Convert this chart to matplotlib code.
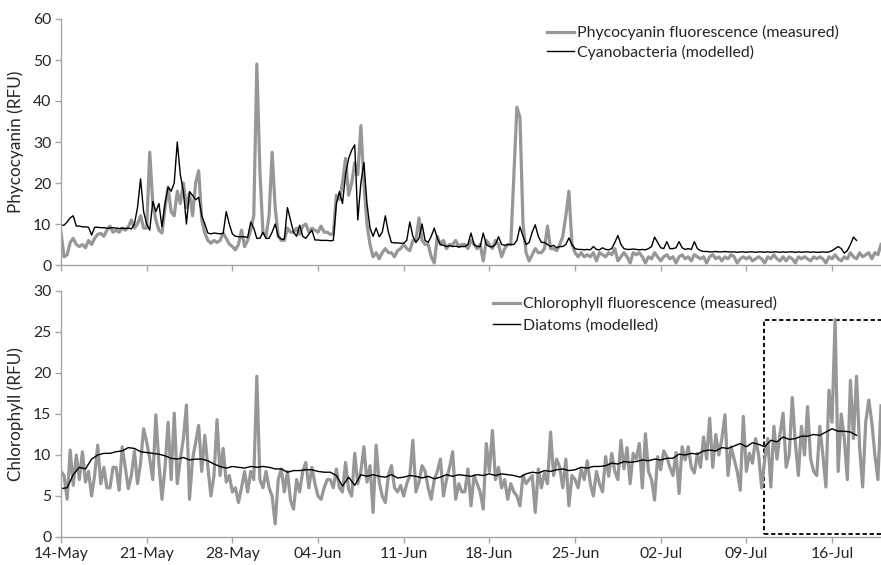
import numpy as np
import pandas as pd
import matplotlib
matplotlib.use("Agg")
import matplotlib.pyplot as plt
import matplotlib.dates as mdates
from matplotlib.patches import Rectangle

plt.rcParams['font.family'] = ['Lato', 'DejaVu Sans']

# ---------------- data ----------------
start_date = "2013-05-14"
tick_labels = ["14-May", "21-May", "28-May", "04-Jun", "11-Jun", "18-Jun",
               "25-Jun", "02-Jul", "09-Jul", "16-Jul"]

# Phycocyanin fluorescence (measured), 6-hourly from 14-May 00:00
phyco_measured = [
    8, 2, 2.5, 5.5,   6.5, 5, 4.5, 5,   4.2, 6, 5, 6.5,   7.5, 7.7, 7, 8.5,
    9.5, 8, 8.5, 8,   9, 8.5, 9.3, 11,  9, 10, 12, 9,     9, 27.5, 15, 11,
    8.5, 7.8, 14, 19, 13, 12, 18, 15,   20, 14, 17.5, 12, 20, 23, 11, 7.8,
    6, 5.3, 6, 5.5,   6, 7.8, 6.5, 5.1, 4.5, 3.7, 5, 8.5, 4.5, 6, 8.5, 12,
    49, 23, 8, 7,     12, 27.5, 14, 7,  6, 6, 9, 8,       8, 9, 7.5, 9.5,
    10, 8, 9, 8.5,    8, 9.5, 8, 8,     7.5, 7.5, 17, 16, 20, 26, 17, 20,
    25, 22, 34, 20,   10, 5, 2, 3,      1.5, 3, 4, 3,     3, 2, 3.5, 4,
    5, 4, 3.5, 6,     6, 11.5, 6, 5,    5, 2, 0.5, 7,     5, 6, 4, 5,
    5, 6, 4.5, 5,     5, 4, 6, 5,       4, 5, 1, 6,       5, 4, 6, 5,
    2, 4, 5, 5,       22, 38.5, 36, 10, 3, 1, 2.5, 4,     3, 3, 4, 9.5,
    4, 4, 3.5, 5,     7, 12, 18, 5,     3, 2, 3, 2,       2.5, 2, 3, 1,
    3, 2.5, 2, 3,     2.5, 4, 1, 2,     3, 2, 0.5, 3,     2.5, 3, 2, 0.5,
    2, 1.5, 3, 2,     1, 2, 2.5, 1.5,   2, 0.5, 2, 2.5,   1.5, 2, 1, 2.5,
    2, 1.5, 2, 0.5,   2, 2.5, 1.5, 2,   1, 2, 1.5, 2.5,   2, 0.5, 1.5, 2,
    1.5, 2, 1, 1.5,   2, 1.5, 0.5, 2,   1.5, 2.5, 1.5, 1, 2, 1, 2, 1.5,
    0.5, 2, 1.5, 2,   1.5, 1, 2, 1.5,   2, 1.5, 0.5, 2,   1.5, 2.5, 1.5, 1,
    2, 1.5, 3, 2,     1.5, 3, 2, 2.5,   3, 1.5, 3, 2.5,   5,
]

# Cyanobacteria (modelled), 6-hourly from 14-May 00:00
cyano_modelled = [
    9.7, 9.7, 10.5, 11.5, 12, 9.5, 9.5, 9.3,  9.3, 9.2, 7.3, 9.2,  9.2, 9.1, 9.1, 9.0,
    9.0, 9.1, 9.0, 8.9,   9.0, 8.9, 9.0, 8.8, 10, 14, 21, 13,      10, 8.5, 15.5, 13,
    15, 9.3, 15, 19,      18, 20, 30, 22,     18, 10, 17.9, 17,    15.9, 16.5, 12, 10,
    7.8, 7.6, 7.8, 7.7,   7.6, 7.7, 13, 10,   7.6, 7, 6.9, 6.9,    6.9, 6.7, 10.5, 9,
    6.5, 6.5, 8, 6.5,     6.5, 8, 10, 7,      6.3, 6.3, 14, 11,    8, 7, 9.7, 7,
    6.5, 7.5, 8.5, 6.1,   6.1, 6, 6, 6,       5.9, 6, 15, 17.9,    15, 22, 26, 28,
    29.3, 11, 20, 25,     15, 9, 7, 9,        6.9, 8, 12, 8,       5.5, 5.4, 5.4, 5.3,
    5.3, 6, 10.5, 7,      5.5, 6.5, 10, 6,    5.5, 7, 9, 6.5,      5, 4.8, 4.5, 4.7,
    4.5, 4.6, 4.4, 4.5,   4.5, 5, 7.8, 5,     4.5, 4.5, 7.8, 5,    4.5, 4.4, 5, 6.9,
    5, 4.8, 5, 5,         5, 6, 9.3, 7,       5, 5.5, 8, 9.8,      7, 5.5, 5.5, 5,
    4.5, 4.8, 4.2, 4.5,   4.5, 5, 6.6, 5,     4, 3.8, 3.8, 3.7,    3.8, 3.7, 4.5, 3.8,
    3.7, 4.2, 3.8, 3.7,   4, 5.5, 7.2, 5,     4, 3.8, 3.8, 3.9,    3.8, 3.7, 3.8, 3.7,
    4, 4.5, 6.8, 5.5,     4.2, 4, 5.7, 4,     4, 4.2, 5.7, 4.2,    3.8, 4, 3.8, 5.7,
    4, 3.5, 3.3, 3.3,     3.2, 3.2, 3.3, 3.2, 3.2, 3.3, 3.2, 3.2,  3.2, 3.1, 3.2, 3.2,
    3.1, 3.2, 3.2, 3.1,   3.2, 3.2, 3.1, 3.2, 3.1, 3.2, 3.2, 3.1,  3.2, 3.1, 3.2, 3.2,
    3.1, 3.2, 3.1, 3.2,   3.2, 3.1, 3.2, 3.1, 3.1, 3.2, 3.1, 3.2,  3.5, 4, 4.5, 4,
    2.9, 3.5, 5, 6.8,     6,
]

# Chlorophyll fluorescence (measured), 6-hourly from 14-May 00:00
chl_measured = [
    8, 7.5, 4.6, 10.6,    6.3, 10, 7, 10.4,   6.7, 8, 5, 7.5,      11.2, 6.5, 8.5, 6,
    6, 8.5, 8.5, 5.7,     11, 8.5, 5.9, 7.5,  10.5, 6.5, 9, 13.2,  11.6, 9.5, 7, 14.9,
    9, 4.6, 8.5, 14,      7, 15.1, 6.5, 9.5,  12, 16.1, 4.6, 9.5,  11.5, 13.6, 8, 12.4,
    8.5, 5, 7.5, 14.3,    7.5, 10.8, 6.7, 7.5, 5.5, 6, 4.2, 6,     8, 5.5, 8, 7,
    19.6, 7, 6, 8,        6, 5, 1.6, 7,       8.3, 5.5, 8, 4.5,    3.4, 7, 5.5, 8,
    9.1, 6, 8.5, 6.5,     5, 4.6, 6, 7,       7, 6, 8.3, 6,        5.5, 9.1, 5.8, 5,
    10.2, 6.5, 8, 11,     6.7, 8.7, 3, 11.2,  6.7, 5, 4.2, 7.5,    8.7, 6, 5.5, 6.3,
    5, 6.5, 7.5, 11.8,    5.5, 6.7, 8.7, 8,   6, 4.6, 7, 8,        9.5, 5, 7, 8.5,
    10.4, 4.6, 6.5, 5.5,  5.5, 8.3, 3.8, 7.5, 6.5, 5.5, 3.4, 11.4, 8, 13, 7, 8.5,
    6, 7, 4.6, 6.5,       5.5, 5, 3.8, 7.5,   6.5, 7, 7.5, 3,      8.3, 6, 7.8, 6.5,
    12.8, 7.5, 9.5, 8.5,  6, 9.5, 3.8, 7.5,   7, 6, 8.3, 7,        9.3, 6.5, 5, 8,
    6.5, 5.5, 9.8, 7.4,   10.2, 8, 7, 11.8,   8.3, 10.9, 6.5, 10.2, 9.5, 11.4, 6, 12.6,
    8, 7, 4.5, 9.8,       8.2, 10.5, 9.8, 8.5, 7.5, 10.3, 5.3, 11, 9.4, 11, 8.5, 7.8,
    10.2, 8.5, 12.2, 9.5, 14.5, 8.5, 12.5, 10, 12, 14.9, 7.5, 11,  9.5, 8, 5.7, 14.7,
    8, 10.2, 9, 12,       10, 6, 9.5, 12,     6.1, 13.5, 9.5, 12.6, 15.1, 8.5, 10, 17,
    11.5, 7.5, 13.5, 10,  15.9, 9.5, 8, 7.5,  13.5, 10, 6.1, 17.9, 14, 26.5, 8, 15,
    12, 7, 19.1, 12,      19.6, 11, 6.1, 14,  16.7, 14, 10, 7,     16,
]

# Diatoms (modelled), 12-hourly from 14-May 00:00
diatoms_modelled = [
    5.9, 6.0, 7.6, 8.5, 8.3, 9.5, 10.0, 10.2, 10.2, 10.4, 10.5, 10.9, 10.8, 10.4,
    10.3, 10.2, 10.1, 9.9, 9.6, 9.5, 9.7, 9.4, 9.5, 9.5, 9.3, 8.9, 8.6, 8.4,
    8.6, 8.5, 8.4, 8.6, 8.5, 8.6, 8.5, 8.3, 8.3, 7.9, 8.1, 8.1, 8.2, 8.2,
    8.0, 7.9, 7.9, 7.5, 6.2, 7.3, 6.3, 7.6, 7.4, 7.6, 7.4, 7.3, 7.6, 7.2,
    7.3, 7.5, 7.4, 7.2, 7.4, 7.1, 7.3, 7.6, 7.4, 7.6, 7.5, 7.4, 7.6, 7.5,
    7.7, 7.5, 7.7, 7.6, 7.5, 7.3, 7.7, 7.9, 7.8, 8.1, 8.0, 8.2, 8.3, 8.1,
    8.2, 8.5, 8.4, 8.6, 8.6, 8.7, 9.0, 8.9, 9.2, 9.1, 9.2, 9.4, 9.3, 9.5,
    9.4, 9.6, 9.6, 10.1, 10.0, 10.2, 10.1, 10.5, 10.6, 10.5, 10.9, 10.8, 11.1, 11.4,
    11.0, 11.5, 11.3, 11.0, 11.8, 11.6, 12.2, 11.9, 12.0, 12.3, 12.3, 12.5, 12.4, 12.8,
    13.2, 12.9, 12.9, 12.8, 12.4,
]

# ---------------- figure ----------------
t0 = pd.Timestamp(start_date)
t_pm = pd.date_range(t0, periods=len(phyco_measured), freq="6h")
t_cm = pd.date_range(t0, periods=len(cyano_modelled), freq="6h")
t_chm = pd.date_range(t0, periods=len(chl_measured), freq="6h")
t_dm = pd.date_range(t0, periods=len(diatoms_modelled), freq="12h")
tick_pos = pd.date_range(t0, periods=len(tick_labels), freq="7D")

W, H = 881, 565
fig = plt.figure(figsize=(W / 100, H / 100), dpi=100)
left = 61 / W
width = 1 - left
ax1 = fig.add_axes([left, 1 - 265 / H, width, 246 / H])
ax2 = fig.add_axes([left, 1 - 537 / H, width, 246 / H])

gray = "#979797"
spine_c = "#a6a6a6"
txt_c = "#262626"

ax1.plot(t_pm, phyco_measured, color=gray, lw=2.3, label="Phycocyanin fluorescence (measured)")
ax1.plot(t_cm, cyano_modelled, color="black", lw=1.0, label="Cyanobacteria (modelled)")
ax2.plot(t_chm, chl_measured, color=gray, lw=2.3, label="Chlorophyll fluorescence (measured)")
ax2.plot(t_dm, diatoms_modelled, color="black", lw=1.0, label="Diatoms (modelled)")

xmin, xmax = t0, t0 + pd.Timedelta(days=67)
for ax in (ax1, ax2):
    ax.set_xlim(xmin, xmax)
    for s in ("top", "right"):
        ax.spines[s].set_visible(False)
    for s in ("left", "bottom"):
        ax.spines[s].set_color(spine_c)
        ax.spines[s].set_linewidth(1.0)
    ax.set_xticks(tick_pos)
    ax.tick_params(axis="both", direction="out", length=4, width=1.0,
                   color=spine_c, labelsize=11.3, labelcolor=txt_c, pad=3)
    ax.set_facecolor("none")

ax1.set_xticklabels([])
ax2.set_xticklabels(tick_labels)

ax1.set_ylim(0, 60)
ax1.set_yticks(np.arange(0, 61, 10))
ax2.set_ylim(0, 30)
ax2.set_yticks(np.arange(0, 31, 5))

ax1.set_ylabel("Phycocyanin (RFU)", fontsize=12.3, color=txt_c)
ax2.set_ylabel("Chlorophyll (RFU)", fontsize=12.3, color=txt_c)
for ax in (ax1, ax2):
    ax.yaxis.set_label_coords(-0.045, 0.5)

# dashed highlight box (extends beyond right edge, clipped)
bx0 = mdates.date2num(t0 + pd.Timedelta(days=57.45))
bx1 = mdates.date2num(t0 + pd.Timedelta(days=70))
rect = Rectangle((bx0, 0.35), bx1 - bx0, 26.1, fill=False, edgecolor="black",
                 lw=1.3, linestyle=(0, (2.4, 1.5)), clip_on=True)
ax2.add_patch(rect)

leg_kw = dict(frameon=False, fontsize=11.4, handlelength=1.7, handletextpad=0.2,
              borderpad=0, borderaxespad=0, loc="upper left")
l1 = ax1.legend(bbox_to_anchor=(0.593, 0.975), labelspacing=0.3, **leg_kw)
l2 = ax2.legend(bbox_to_anchor=(0.527, 0.978), labelspacing=0.45, **leg_kw)
for lg in (l1, l2):
    for t in lg.get_texts():
        t.set_color(txt_c)

fig.savefig("out.png", dpi=100)
